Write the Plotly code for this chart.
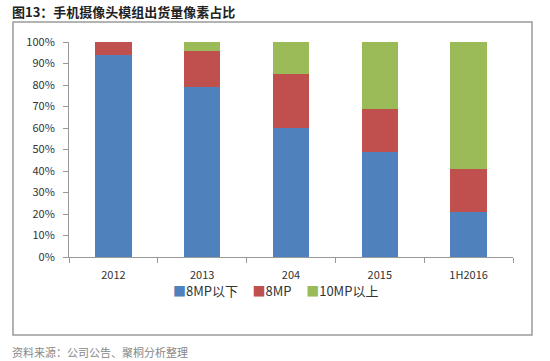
import plotly.graph_objects as go

categories = ["2012", "2013", "204", "2015", "1H2016"]
below_8mp = [94, 79, 60, 49, 21]
mp8 = [6, 17, 25, 20, 20]
above_10mp = [0, 4, 15, 31, 59]
series_names = ["8MP以下", "8MP", "10MP以上"]
colors = ["#4F81BD", "#C0504D", "#9BBB59"]

font_family = "Noto Sans CJK SC, Noto Sans, sans-serif"

fig = go.Figure()
for name, vals, c in zip(series_names, [below_8mp, mp8, above_10mp], colors):
    fig.add_trace(go.Bar(x=categories, y=vals, name=name, marker=dict(color=c, line=dict(width=0)),
                         width=0.41, showlegend=False))

W, H = 550, 361
l, r, t, b = 69, 37, 42, 104
pw, ph = W - l - r, H - t - b

def px(x):
    return (x - l) / pw

def py(y):
    return (H - b - y) / ph

legend_text = "&nbsp;&nbsp;&nbsp;&nbsp;&nbsp;".join(
    f"<span style='color:{c}'>■</span>{n}" for n, c in zip(series_names, colors))

fig.update_layout(
    barmode="stack",
    width=W, height=H,
    margin=dict(l=l, r=r, t=t, b=b, autoexpand=False),
    paper_bgcolor="white", plot_bgcolor="white",
    font=dict(family=font_family, size=11, color="#333333"),
    showlegend=False,
    xaxis=dict(showline=True, linecolor="#999999", linewidth=1, ticks="outside", ticklen=5,
               tickcolor="#999999", tickson="boundaries", tickfont=dict(size=11, color="#333333"),
               showgrid=False, ticklabelstandoff=8),
    yaxis=dict(range=[0, 100], dtick=10, ticksuffix="%", showline=True, linecolor="#999999",
               linewidth=1, ticks="outside", ticklen=5, tickcolor="#999999", showgrid=False,
               zeroline=False, tickfont=dict(size=11, color="#333333"), ticklabelstandoff=6),
    shapes=[dict(type="rect", xref="paper", yref="paper", x0=px(13), x1=px(532), y0=py(335), y1=py(22),
                 line=dict(color="#9a9a9a", width=1.5), layer="below")],
    annotations=[
        dict(text="<b>图13：手机摄像头模组出货量像素占比</b>", xref="paper", yref="paper",
             x=px(10), y=py(11), xanchor="left", yanchor="middle", showarrow=False,
             font=dict(size=13, color="#222222")),
        dict(text="资料来源：公司公告、聚桐分析整理", xref="paper", yref="paper",
             x=px(10), y=py(352), xanchor="left", yanchor="middle", showarrow=False,
             font=dict(size=11, color="#888888")),
        dict(text=legend_text, xref="paper", yref="paper",
             x=px(275), y=py(290), xanchor="center", yanchor="middle", showarrow=False,
             font=dict(size=13, color="#333333")),
    ],
)

fig.write_html("out.html", config={"displayModeBar": False},
               post_script="document.body.style.margin='0';document.body.style.padding='0';")
